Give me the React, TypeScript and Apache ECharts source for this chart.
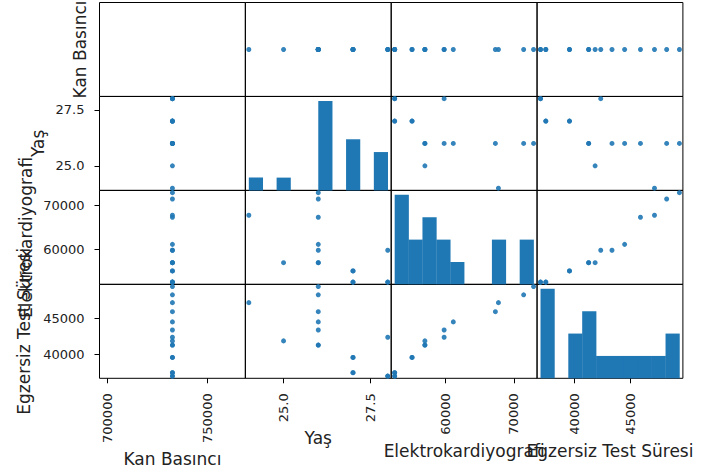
import React, { useEffect, useRef } from 'react';
import * as echarts from 'echarts';

// ---- data (16 rows) ----
const columnNames = ['Kan Basıncı', 'Yaş', 'Elektrokardiyografi', 'Egzersiz Test Süresi'];

const kanBasinci = [
  732600, 732600, 732600, 732600, 732600, 732600, 732600, 732600,
  732600, 732600, 732600, 732600, 732600, 732600, 732600, 732600,
];
const yas = [28, 28, 27, 27, 27, 27, 26, 26, 25, 28, 26, 26, 26, 24, 26, 26];
const elektrokardiyografi = [
  52532, 52532, 52532, 52532, 55076, 55076, 56958, 56958,
  56958, 59777, 59777, 61120, 67286, 67733, 71427, 72882,
];
const egzersizTestSuresi = [
  36965, 36965, 37438, 37438, 39558, 39558, 41275, 41275,
  41853, 42357, 43364, 44496, 45914, 47170, 48259, 49403,
];

// histogram counts on the diagonal (10 bins each)
const kanHist: number[] = [];
const yasHist = [1, 0, 1, 0, 0, 7, 0, 4, 0, 3];
const ekgHist = [4, 2, 3, 2, 1, 0, 0, 2, 0, 2];
const testHist = [4, 0, 2, 3, 1, 1, 1, 1, 1, 2];

// tick labels
const kanTicks = [700000, 750000];
const yasTicks = [25, 27.5];
const ekgTicks = [60000, 70000];
const testTicks = [40000, 45000];

const columns = [kanBasinci, yas, elektrokardiyografi, egzersizTestSuresi];
const hists = [kanHist, yasHist, ekgHist, testHist];
const ticks = [kanTicks, yasTicks, ekgTicks, testTicks];
const fmts = [
  (v: number) => String(v),
  (v: number) => v.toFixed(1),
  (v: number) => String(v),
  (v: number) => String(v),
];

const BLUE = '#1f77b4';
const TEXT = '#222222';
const FONT = 'DejaVu Sans';

const LEFT0 = 99.5;
const TOP0 = 2.5;
const CW = 145.85;
const CH = 93.95;

function extent(vals: number[]): [number, number] {
  const mn = Math.min(...vals);
  const mx = Math.max(...vals);
  if (mx - mn === 0) return [mn * 0.95, mx * 1.05];
  const e = (mx - mn) * 0.025;
  return [mn - e, mx + e];
}

function buildOption() {
  const grids: any[] = [];
  const xAxes: any[] = [];
  const yAxes: any[] = [];
  const series: any[] = [];
  const n = columns.length;

  for (let i = 0; i < n; i++) {
    for (let j = 0; j < n; j++) {
      const idx = i * n + j;
      grids.push({
        left: LEFT0 + j * CW,
        top: TOP0 + i * CH,
        width: CW,
        height: CH,
        show: true,
        borderColor: '#000',
        borderWidth: 1,
        backgroundColor: 'transparent',
        containLabel: false,
        outerBoundsMode: 'none',
      });
      const xe = extent(columns[j]);
      const showX = i === n - 1;
      xAxes.push({
        type: 'value',
        gridIndex: idx,
        min: xe[0],
        max: xe[1],
        axisLine: { show: false },
        splitLine: { show: false },
        axisTick: showX
          ? { show: true, customValues: ticks[j], length: 5, lineStyle: { color: '#000', width: 1 } }
          : { show: false },
        axisLabel: showX
          ? {
              show: true,
              customValues: ticks[j],
              rotate: 90,
              margin: 15,
              formatter: fmts[j],
              fontSize: 13,
              fontFamily: FONT,
              color: TEXT,
            }
          : { show: false },
      });

      let ymin: number;
      let ymax: number;
      if (i === j) {
        const h = hists[i];
        ymin = 0;
        ymax = h.length ? Math.max(...h) * 1.05 : 1;
      } else {
        const ye = extent(columns[i]);
        ymin = ye[0];
        ymax = ye[1];
      }
      const showY = j === 0 && i > 0;
      yAxes.push({
        type: 'value',
        gridIndex: idx,
        min: ymin,
        max: ymax,
        axisLine: { show: false },
        splitLine: { show: false },
        axisTick: showY
          ? { show: true, customValues: ticks[i], length: 5, lineStyle: { color: '#000', width: 1 } }
          : { show: false },
        axisLabel: showY
          ? {
              show: true,
              customValues: ticks[i],
              margin: 15,
              formatter: fmts[i],
              fontSize: 13,
              fontFamily: FONT,
              color: TEXT,
            }
          : { show: false },
      });

      if (i === j) {
        const h = hists[i];
        if (h.length) {
          const vals = columns[i];
          const mn = Math.min(...vals);
          const mx = Math.max(...vals);
          const w = (mx - mn) / h.length;
          const data = h.map((c, k) => [mn + k * w, mn + (k + 1) * w, c]);
          series.push({
            type: 'custom',
            xAxisIndex: idx,
            yAxisIndex: idx,
            encode: { x: [0, 1], y: 2 },
            data,
            renderItem: (params: any, api: any) => {
              const c = api.value(2);
              if (!c) return null;
              const p0 = api.coord([api.value(0), 0]);
              const p1 = api.coord([api.value(1), c]);
              return {
                type: 'rect',
                shape: { x: p0[0], y: p1[1], width: p1[0] - p0[0] + 0.3, height: p0[1] - p1[1] },
                style: { fill: BLUE, stroke: null, lineWidth: 0 },
              };
            },
          });
        }
      } else {
        const xs = columns[j];
        const ys = columns[i];
        series.push({
          type: 'scatter',
          xAxisIndex: idx,
          yAxisIndex: idx,
          symbol: 'circle',
          symbolSize: 5,
          itemStyle: { color: BLUE, opacity: 0.9 },
          data: xs.map((x, k) => [x, ys[k]]),
        });
      }
    }
  }

  const labelStyle = (text: string) => ({
    text,
    fontSize: 17,
    fontFamily: FONT,
    fill: TEXT,
    align: 'center',
    verticalAlign: 'middle',
  });

  const bottomY = [459, 438, 451, 451];
  const leftX = [80, 38, 26, 24];
  const graphic: any[] = [];
  for (let j = 0; j < n; j++) {
    graphic.push({
      type: 'text',
      x: LEFT0 + (j + 0.5) * CW,
      y: bottomY[j],
      style: labelStyle(columnNames[j]),
      silent: true,
    });
  }
  for (let i = 0; i < n; i++) {
    graphic.push({
      type: 'text',
      x: leftX[i],
      y: TOP0 + (i + 0.5) * CH,
      rotation: Math.PI / 2,
      style: labelStyle(columnNames[i]),
      silent: true,
    });
  }

  return {
    animation: false,
    backgroundColor: '#ffffff',
    grid: grids,
    xAxis: xAxes,
    yAxis: yAxes,
    series,
    graphic,
  };
}

export default function App() {
  const ref = useRef<HTMLDivElement>(null);
  useEffect(() => {
    if (!ref.current) return;
    const chart = echarts.init(ref.current, null, { renderer: 'svg' });
    chart.setOption(buildOption() as any);
    return () => chart.dispose();
  }, []);
  return (
    <div
      ref={ref}
      style={{ position: 'fixed', left: 0, top: 0, width: 724, height: 473, background: '#fff' }}
    />
  );
}
